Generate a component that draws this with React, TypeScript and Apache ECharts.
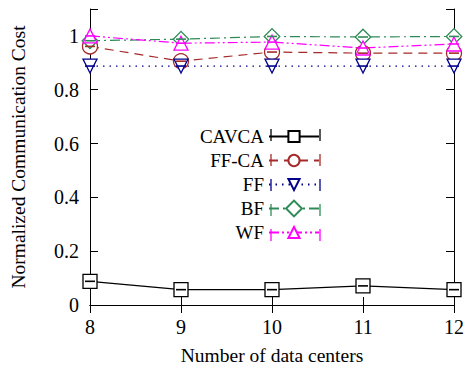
import React, { useEffect, useRef } from "react";
import * as echarts from "echarts";

const xValues = [8, 9, 10, 11, 12];
const seriesNames = ["CAVCA", "FF-CA", "FF", "BF", "WF"];
const cavca = [0.088, 0.057, 0.057, 0.071, 0.057];
const ffca = [0.961, 0.906, 0.94, 0.936, 0.936];
const ff = [0.888, 0.888, 0.888, 0.888, 0.888];
const bf = [0.982, 0.988, 0.998, 0.996, 0.998];
const wf = [1.0, 0.973, 0.977, 0.955, 0.97];

const FONT = "Liberation Serif";

export default function App() {
  const ref = useRef<HTMLDivElement>(null);
  useEffect(() => {
    if (!ref.current) return;
    const chart = echarts.init(ref.current, undefined, { renderer: "svg" });
    const colors = ["#000000", "#a52a2a", "#00008b", "#2e8b57", "#ff00ff"];
    const dashes: any[] = ["solid", [9, 6], [1.5, 5], [10, 4, 2, 4], [10, 3, 2, 3, 2, 3]];
    const symbols = ["rect", "circle", "triangle", "rect", "triangle"];
    const rotates = [0, 0, 180, 45, 0];
    const sizes = [14, 15, 14, 11, 14];
    const values = [cavca, ffca, ff, bf, wf];

    const lineSeries = seriesNames.map((name, i) => ({
      name,
      type: "line",
      data: xValues.map((x, j) => [x, values[i][j]]),
      symbol: symbols[i],
      symbolSize: sizes[i],
      symbolRotate: rotates[i],
      showSymbol: true,
      lineStyle: { color: colors[i], width: 1.2, type: dashes[i] },
      itemStyle: { color: "#ffffff", borderColor: colors[i], borderWidth: 1.3 },
      z: 3,
    }));

    const barSeries = seriesNames.map((name, i) => ({
      name: name + "_err",
      type: "custom",
      data: xValues.map((x, j) => [x, values[i][j]]),
      renderItem: (params: any, api: any) => {
        const p = api.coord([api.value(0), api.value(1)]);
        return {
          type: "line",
          shape: { x1: p[0] - 5, y1: p[1], x2: p[0] + 5, y2: p[1] },
          style: { stroke: colors[i], lineWidth: 1.6 },
        };
      },
      z: 4,
      silent: true,
    }));

    const legendRows = [135, 160, 185, 210, 235];
    const capGraphics: any[] = [];
    legendRows.forEach((cy, i) => {
      [271, 320].forEach((cx) => {
        capGraphics.push({
          type: "line",
          shape: { x1: cx, y1: cy - 6, x2: cx, y2: cy + 6 },
          style: { stroke: colors[i], lineWidth: 1.3 },
        });
      });
    });

    const rich = { t: { fontFamily: FONT, fontSize: 20, color: "#000" } };

    chart.setOption({
      animation: false,
      textStyle: { fontFamily: FONT },
      grid: { left: 90, right: 18, top: 9, bottom: 74 },
      legend: {
        data: seriesNames,
        orient: "vertical",
        align: "right",
        right: 147,
        top: 122,
        itemWidth: 50,
        itemHeight: 14,
        itemGap: 5,
        textStyle: { fontFamily: FONT, fontSize: 19, color: "#000" },
      },
      xAxis: [
        {
          type: "value",
          min: 8,
          max: 12,
          interval: 1,
          name: "Number of data centers",
          nameLocation: "middle",
          nameGap: 40,
          nameTextStyle: { fontFamily: FONT, fontSize: 19.5, color: "#000" },
          axisLine: { lineStyle: { color: "#000", width: 1 } },
          axisTick: { inside: true, length: 8, lineStyle: { color: "#000" } },
          axisLabel: {
            fontFamily: FONT,
            fontSize: 20,
            color: "#000",
            margin: 12,
            formatter: (v: number) => "{t|" + v + "}",
            rich,
          },
          splitLine: { show: false },
        },
        {
          type: "value",
          position: "top",
          min: 8,
          max: 12,
          interval: 1,
          axisLine: { lineStyle: { color: "#000", width: 1 } },
          axisTick: { inside: true, length: 8, lineStyle: { color: "#000" } },
          axisLabel: { show: false },
          splitLine: { show: false },
        },
      ],
      yAxis: [
        {
          type: "value",
          min: 0,
          max: 1.1,
          interval: 0.2,
          name: "Normalized Communication Cost",
          nameLocation: "middle",
          nameGap: 62,
          nameTextStyle: { fontFamily: FONT, fontSize: 19.5, color: "#000" },
          axisLine: { show: true, lineStyle: { color: "#000", width: 1 } },
          axisTick: { show: true, inside: true, length: 8, lineStyle: { color: "#000" } },
          axisLabel: {
            fontFamily: FONT,
            fontSize: 20,
            color: "#000",
            margin: 11,
            formatter: (v: number) => (v > 1.05 ? "" : "{t|" + String(Math.round(v * 10) / 10) + "}"),
            rich,
          },
          splitLine: { show: false },
        },
        {
          type: "value",
          position: "right",
          min: 0,
          max: 1.1,
          interval: 0.2,
          axisLine: { show: true, lineStyle: { color: "#000", width: 1 } },
          axisTick: { show: true, inside: true, length: 8, lineStyle: { color: "#000" } },
          axisLabel: { show: false },
          splitLine: { show: false },
        },
      ],
      graphic: capGraphics,
      series: [...lineSeries, ...barSeries],
    });
    return () => chart.dispose();
  }, []);
  return <div ref={ref} style={{ width: 472, height: 379, position: "absolute", left: 0, top: 0 }} />;
}
